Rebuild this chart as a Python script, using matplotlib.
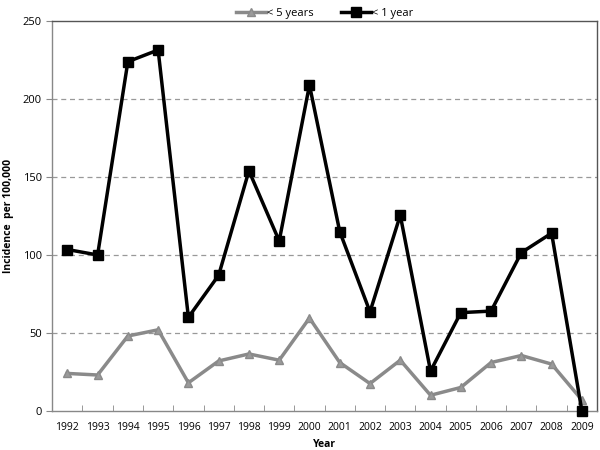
import matplotlib
matplotlib.use("Agg")
import matplotlib.pyplot as plt

years = ["1992", "1993", "1994", "1995", "1996", "1997", "1998", "1999", "2000",
         "2001", "2002", "2003", "2004", "2005", "2006", "2007", "2008", "2009"]
under5 = [24, 23, 48, 52, 18, 32, 36.5, 32.5, 59.5, 31, 17.5, 32.5, 10, 15, 31, 35.5, 30, 7]
under1 = [103.5, 100, 224, 231.5, 60, 87, 154, 109, 209, 115, 63.5, 125.5, 25.5, 63, 64, 101.5, 114, 0]

plt.rcParams['font.family'] = ['Open Sans', 'DejaVu Sans']

fig = plt.figure(figsize=(6, 4.5), dpi=100)
ax = fig.add_axes([0.087, 0.087, 0.908, 0.866])

x = list(range(len(years)))
ax.plot(x, under5, color='#8a8a8a', lw=2.5, marker='^', ms=6, mfc='#9a9a9a', mec='#8a8a8a',
        label='< 5 years', zorder=3)
ax.plot(x, under1, color='black', lw=2.5, marker='s', ms=7.5, label='< 1 year', zorder=4,
        clip_on=False)

ax.set_xlim(-0.5, len(years) - 0.5)
ax.set_ylim(0, 250)
ax.set_yticks([0, 50, 100, 150, 200, 250])
ax.set_xticks(x)
ax.set_xticklabels(years)
ax.set_xticks([i - 0.5 for i in range(len(years) + 1)], minor=True)
ax.tick_params(axis='x', which='major', length=0, labelsize=7.5, pad=8)
ax.tick_params(axis='x', which='minor', length=4, direction='in', color='#888888')
ax.tick_params(axis='y', length=4, direction='out', color='#888888', labelsize=8)

for y in [50, 100, 150, 200]:
    ax.axhline(y, color='#999999', lw=0.9, ls=(0, (4, 3)), zorder=1)

for s in ax.spines.values():
    s.set_color('#888888')
    s.set_linewidth(1.0)
ax.spines['top'].set_color('#555555')
ax.spines['right'].set_color('#555555')

ax.set_xlabel('Year', fontsize=7.5, fontweight='bold', labelpad=4)
ax.set_ylabel('Incidence  per 100,000', fontsize=7.5, fontweight='bold', labelpad=6)

ax.legend(loc='lower center', bbox_to_anchor=(0.5, 0.995), ncol=2, frameon=False,
          fontsize=8, handlelength=2.7, columnspacing=2.5, borderaxespad=0,
          handletextpad=0.1)

fig.savefig('out.png', dpi=100)
